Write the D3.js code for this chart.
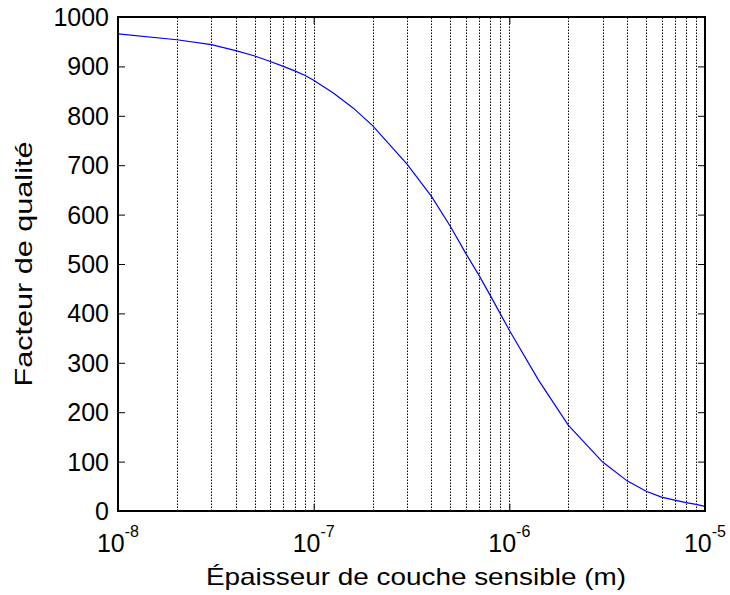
<!DOCTYPE html>
<html>
<head>
<meta charset="UTF-8">
<title>Facteur de qualité</title>
<script src="https://cdnjs.cloudflare.com/ajax/libs/d3/7.8.5/d3.min.js"></script>
<style>
body { margin: 0; background: #fff; }
text { font-family: "Liberation Sans", Arial, Helvetica, sans-serif; fill: #000; }
</style>
</head>
<body>
<div id="chart"></div>
<script>
/*global d3*/

// epaisseur (m) et facteur de qualite
var epaisseur = [1e-8, 2e-8, 3e-8, 4e-8, 5e-8, 6e-8, 7e-8, 8e-8, 9e-8,
                 1e-7, 1.26e-7, 1.59e-7, 2e-7, 3e-7, 4e-7, 5e-7, 6e-7, 7e-7, 8e-7, 9e-7,
                 1e-6, 1.41e-6, 2e-6, 3e-6, 4e-6, 5e-6, 6e-6, 7e-6, 8e-6, 9e-6, 1e-5];
var facteur = [966, 954, 944, 932, 921, 910, 900, 891, 882,
               872, 846, 816, 780, 702, 637, 576, 521, 477, 436, 399,
               366, 265, 174, 99, 61, 40, 28, 22, 17, 13.5, 9.5];

var xDecades = [-8, -7, -6, -5];
var yTicks = [0, 100, 200, 300, 400, 500, 600, 700, 800, 900, 1000];

var width = 730, height = 595;
var margin = {left: 118, right: 25, top: 17, bottom: 84};

var svg = d3.select("#chart").append("svg")
    .attr("width", width)
    .attr("height", height);

var x = d3.scaleLog()
    .domain([1e-8, 1e-5])
    .range([margin.left, width - margin.right]);

var y = d3.scaleLinear()
    .domain([0, 1000])
    .range([height - margin.bottom, margin.top]);

// grille verticale pointillee (tous les ticks log)
var gridVals = [];
for (var d = -8; d < -5; d++) {
    for (var m = 1; m < 10; m++) {
        gridVals.push(m * Math.pow(10, d));
    }
}
gridVals = gridVals.filter(function (v) { return v > 1e-8 * 1.001; });

svg.append("g")
    .selectAll("line")
    .data(gridVals)
    .enter()
    .append("line")
    .attr("x1", function (d) { return Math.round(x(d)) + 0.5; })
    .attr("x2", function (d) { return Math.round(x(d)) + 0.5; })
    .attr("y1", y(0))
    .attr("y2", y(1000))
    .attr("stroke", "#000")
    .attr("stroke-width", 1)
    .attr("stroke-dasharray", "1.5,1.5");

// courbe
var line = d3.line()
    .x(function (d, i) { return x(epaisseur[i]); })
    .y(function (d) { return y(d); });

svg.append("path")
    .datum(facteur)
    .attr("fill", "none")
    .attr("stroke", "#0000ff")
    .attr("stroke-width", 1.2)
    .attr("d", line);

// axes : ticks vers l'interieur
var yLeft = d3.axisLeft(y).tickValues(yTicks).tickSize(-7).tickFormat("");
var yRight = d3.axisRight(y).tickValues(yTicks).tickSize(-7).tickFormat("");
var xBottom = d3.axisBottom(x).tickValues(xDecades.map(function (e) { return Math.pow(10, e); }))
    .tickSize(-7).tickFormat("");
var xTop = d3.axisTop(x).tickValues(xDecades.map(function (e) { return Math.pow(10, e); }))
    .tickSize(-7).tickFormat("");

function styleAxis(g) {
    g.select(".domain").remove();
    g.selectAll("line").attr("stroke", "#000").attr("stroke-width", 1);
}

svg.append("g").attr("transform", "translate(" + margin.left + ",0)").call(yLeft).call(styleAxis);
svg.append("g").attr("transform", "translate(" + (width - margin.right) + ",0)").call(yRight).call(styleAxis);
svg.append("g").attr("transform", "translate(0," + y(0) + ")").call(xBottom).call(styleAxis);
svg.append("g").attr("transform", "translate(0," + y(1000) + ")").call(xTop).call(styleAxis);

// cadre
svg.append("rect")
    .attr("x", margin.left)
    .attr("y", margin.top)
    .attr("width", width - margin.right - margin.left)
    .attr("height", y(0) - y(1000))
    .attr("fill", "none")
    .attr("stroke", "#000")
    .attr("stroke-width", 2);

// etiquettes y
svg.append("g")
    .selectAll("text")
    .data(yTicks)
    .enter()
    .append("text")
    .attr("x", margin.left - 9)
    .attr("y", function (d) { return y(d); })
    .attr("dy", "0.36em")
    .attr("text-anchor", "end")
    .style("font-size", "25px")
    .text(function (d) { return d; });

// etiquettes x : 10^e
var xl = svg.append("g")
    .selectAll("text")
    .data(xDecades)
    .enter()
    .append("text")
    .attr("x", function (d) { return x(Math.pow(10, d)); })
    .attr("y", 552)
    .attr("text-anchor", "middle")
    .style("font-size", "25px");
xl.append("tspan").text("10");
xl.append("tspan")
    .attr("dy", -15)
    .style("font-size", "16px")
    .text(function (d) { return "-" + (-d); });

// titres des axes
svg.append("text")
    .attr("x", 416)
    .attr("y", 585)
    .attr("text-anchor", "middle")
    .attr("textLength", 420)
    .attr("lengthAdjust", "spacingAndGlyphs")
    .style("font-size", "24px")
    .text("Épaisseur de couche sensible (m)");

svg.append("text")
    .attr("transform", "translate(32," + (y(500)) + ") rotate(-90)")
    .attr("text-anchor", "middle")
    .attr("textLength", 245)
    .attr("lengthAdjust", "spacingAndGlyphs")
    .style("font-size", "24px")
    .text("Facteur de qualité");
</script>
</body>
</html>
